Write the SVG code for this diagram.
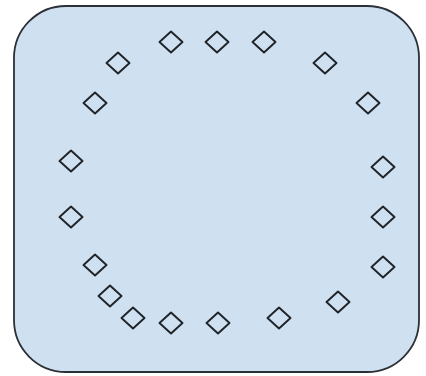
<svg xmlns="http://www.w3.org/2000/svg" xmlns:xlink="http://www.w3.org/1999/xlink" width="426" height="376" viewBox="0 0 426 376">
<style>
.frame{fill:#cfe0f1;stroke:#2b3036;stroke-width:1.8}
.dia{fill:none;stroke:#1f2327;stroke-width:1.9;stroke-linejoin:round}
</style>
<defs>
<path id="d" class="dia" d="M0,-10.5 L11.5,0 L0,10.5 L-11.5,0 Z"/>
</defs>
<rect width="426" height="376" fill="#ffffff"/>
<g id="container"><rect class="frame" x="14" y="6" width="405" height="366" rx="52" ry="52"/></g>
<g id="connectors"/>
<g id="n1"><use xlink:href="#d" x="171" y="42"/></g>
<g id="n2"><use xlink:href="#d" x="217" y="42"/></g>
<g id="n3"><use xlink:href="#d" x="264" y="42"/></g>
<g id="n4"><use xlink:href="#d" x="325" y="63"/></g>
<g id="n5"><use xlink:href="#d" x="368" y="103"/></g>
<g id="n6"><use xlink:href="#d" x="383" y="167"/></g>
<g id="n7"><use xlink:href="#d" x="383" y="217"/></g>
<g id="n8"><use xlink:href="#d" x="383" y="267"/></g>
<g id="n9"><use xlink:href="#d" x="338" y="302"/></g>
<g id="n10"><use xlink:href="#d" x="279" y="318"/></g>
<g id="n11"><use xlink:href="#d" x="218" y="323"/></g>
<g id="n12"><use xlink:href="#d" x="171" y="323"/></g>
<g id="n13"><use xlink:href="#d" x="133" y="318"/></g>
<g id="n14"><use xlink:href="#d" x="110" y="296"/></g>
<g id="n15"><use xlink:href="#d" x="95" y="265"/></g>
<g id="n16"><use xlink:href="#d" x="71" y="217"/></g>
<g id="n17"><use xlink:href="#d" x="71" y="161"/></g>
<g id="n18"><use xlink:href="#d" x="95" y="103"/></g>
<g id="n19"><use xlink:href="#d" x="118" y="63"/></g>
</svg>
